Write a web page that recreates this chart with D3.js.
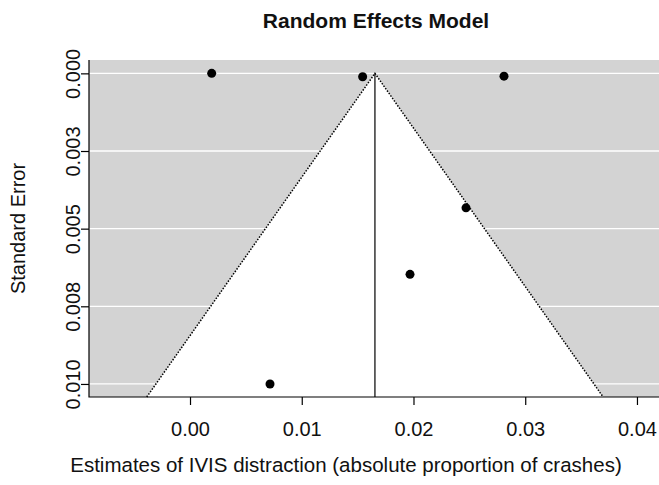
<!DOCTYPE html>
<html>
<head>
<meta charset="utf-8">
<script src="https://cdn.jsdelivr.net/npm/d3@7"></script>
<style>
  body { margin: 0; background: #fff; }
  text { font-family: "Liberation Sans", Arial, sans-serif; }
</style>
</head>
<body>
<div id="chart"></div>
<script>
// study estimates and their standard errors
var estimates = [0.00194, 0.01545, 0.0281, 0.0247, 0.01969, 0.00716];
var stdErrors = [0.0000, 0.00011, 0.00009, 0.00433, 0.00647, 0.0100];
var pooled = 0.01655; // random effects estimate
var xTicks = [0.00, 0.01, 0.02, 0.03, 0.04];
var yTicks = [0, 0.0025, 0.005, 0.0075, 0.01];
var yTickLabels = ["0.000", "0.003", "0.005", "0.008", "0.010"];

var width = 659, height = 485;
var margin = { top: 60, right: -4, bottom: 88, left: 89 };

var svg = d3.select("#chart").append("svg")
    .attr("width", width)
    .attr("height", height);

var x = d3.scaleLinear()
    .domain([-0.00904, 0.04233])
    .range([margin.left, width - margin.right]);

var y = d3.scaleLinear()
    .domain([-0.00043, 0.01042])
    .range([margin.top, height - margin.bottom]);

var seMax = y.domain()[1];

// grey background of plot region
svg.append("rect")
    .attr("x", x.range()[0])
    .attr("y", y.range()[0])
    .attr("width", x.range()[1] - x.range()[0])
    .attr("height", y.range()[1] - y.range()[0])
    .attr("fill", "#d3d3d3");

// white horizontal grid lines
svg.selectAll(".grid")
    .data(yTicks)
    .join("line")
    .attr("class", "grid")
    .attr("x1", x.range()[0])
    .attr("x2", x.range()[1])
    .attr("y1", d => y(d))
    .attr("y2", d => y(d))
    .attr("stroke", "#fff")
    .attr("stroke-width", 1.3);

// white pseudo confidence region
var funnel = [
    [pooled - 1.96 * seMax, seMax],
    [pooled, 0],
    [pooled + 1.96 * seMax, seMax]
];
svg.append("path")
    .attr("d", d3.line().x(d => x(d[0])).y(d => y(d[1]))(funnel) + "Z")
    .attr("fill", "#fff");

svg.append("path")
    .attr("d", d3.line().x(d => x(d[0])).y(d => y(d[1]))(funnel))
    .attr("fill", "none")
    .attr("stroke", "#000")
    .attr("stroke-width", 1.5)
    .attr("stroke-dasharray", "1.5,1.5");

// vertical line at the pooled estimate
svg.append("line")
    .attr("x1", x(pooled))
    .attr("x2", x(pooled))
    .attr("y1", y(0))
    .attr("y2", y(seMax))
    .attr("stroke", "#000")
    .attr("stroke-width", 1.2);

// studies
svg.selectAll(".pt")
    .data(estimates)
    .join("circle")
    .attr("class", "pt")
    .attr("cx", d => x(d))
    .attr("cy", (d, i) => y(stdErrors[i]))
    .attr("r", 4.5)
    .attr("fill", "#000");

// box (left and bottom only)
svg.append("path")
    .attr("d", "M" + x.range()[0] + "," + y.range()[0] + "V" + y.range()[1] + "H" + x.range()[1])
    .attr("fill", "none")
    .attr("stroke", "#000")
    .attr("stroke-width", 1.2);

// x axis
var xAxis = svg.append("g")
    .attr("transform", "translate(0," + y.range()[1] + ")")
    .call(d3.axisBottom(x).tickValues(xTicks).tickFormat(d3.format(".2f")).tickSize(8).tickPadding(17));
xAxis.select(".domain").remove();
xAxis.selectAll(".tick line").attr("stroke-width", 1.2);
xAxis.selectAll(".tick text")
    .attr("font-size", "20px")
    .attr("fill", "#111")
    .style("font-family", "Liberation Sans, Arial, sans-serif");

// y axis with rotated labels
var yAxis = svg.append("g")
    .attr("transform", "translate(" + x.range()[0] + ",0)")
    .call(d3.axisLeft(y).tickValues(yTicks).tickFormat((d, i) => yTickLabels[i]).tickSize(8));
yAxis.select(".domain").remove();
yAxis.selectAll(".tick line").attr("stroke-width", 1.2);
yAxis.selectAll(".tick text")
    .attr("font-size", "20px")
    .attr("fill", "#111")
    .style("font-family", "Liberation Sans, Arial, sans-serif")
    .attr("text-anchor", "middle")
    .attr("dy", 0)
    .attr("x", 0)
    .attr("transform", "translate(-9,0) rotate(-90)");

// title and axis labels
svg.append("text")
    .attr("x", (x.range()[0] + x.range()[1]) / 2)
    .attr("y", 28)
    .attr("text-anchor", "middle")
    .attr("font-size", "21px")
    .attr("font-weight", "bold")
    .attr("fill", "#111")
    .text("Random Effects Model");

svg.append("text")
    .attr("x", 346)
    .attr("y", 472)
    .attr("text-anchor", "middle")
    .attr("font-size", "20.5px")
    .attr("fill", "#111")
    .text("Estimates of IVIS distraction (absolute proportion of crashes)");

svg.append("text")
    .attr("transform", "translate(25," + (y.range()[0] + y.range()[1]) / 2 + ") rotate(-90)")
    .attr("text-anchor", "middle")
    .attr("font-size", "20px")
    .attr("fill", "#111")
    .text("Standard Error");
</script>
</body>
</html>
